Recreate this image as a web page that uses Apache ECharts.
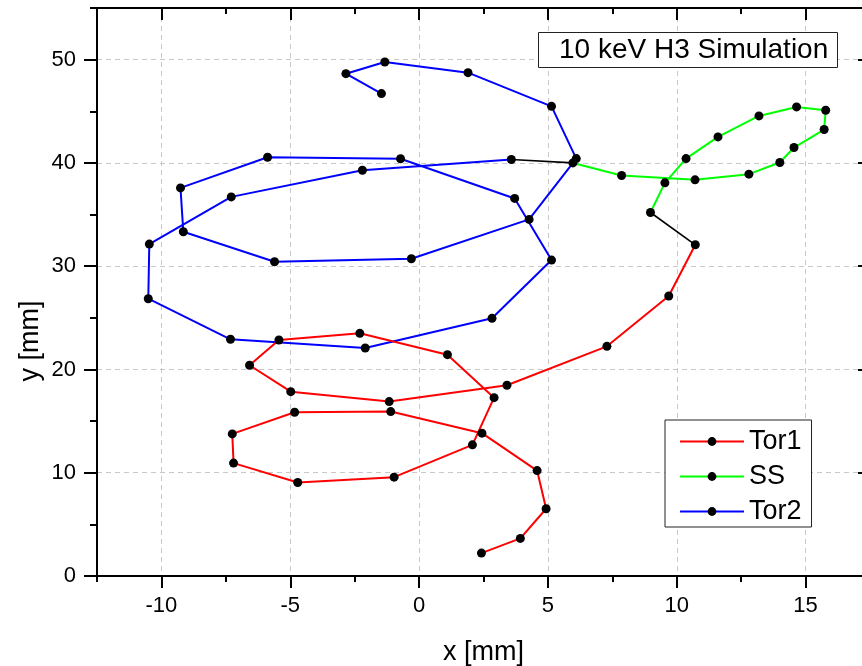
<!DOCTYPE html>
<html>
<head>
<meta charset="utf-8">
<script src="https://cdn.jsdelivr.net/npm/echarts@6/dist/echarts.min.js"></script>
<style>
  html, body { margin: 0; padding: 0; background: #fff; }
  #chart { width: 862px; height: 666px; }
</style>
</head>
<body>
<div id="chart"></div>
<script>
// Electron track segments, [x, y] in mm
const tor1 = [
  [2.42, 2.22], [3.93, 3.64], [4.93, 6.51], [4.58, 10.21], [2.44, 13.83],
  [-1.10, 15.92], [-4.83, 15.86], [-7.25, 13.76], [-7.20, 10.93], [-4.71, 9.05],
  [-0.97, 9.57], [2.07, 12.70], [2.91, 17.27], [1.10, 21.43], [-2.30, 23.50],
  [-5.44, 22.85], [-6.58, 20.41], [-4.98, 17.85], [-1.16, 16.89], [3.41, 18.47],
  [7.29, 22.24], [9.69, 27.11], [10.72, 32.07]
];
const ss = [
  [8.98, 35.20], [9.54, 38.07], [10.36, 40.42], [11.60, 42.52], [13.19, 44.55],
  [14.65, 45.42], [15.78, 45.10], [15.72, 43.23], [14.55, 41.49], [14.00, 40.04],
  [12.80, 38.91], [10.71, 38.36], [7.86, 38.78], [5.97, 40.00]
];
const tor2 = [
  [3.58, 40.33], [-2.20, 39.29], [-7.29, 36.71], [-10.47, 32.14], [-10.51, 26.85],
  [-7.32, 22.92], [-2.09, 22.08], [2.83, 24.95], [5.14, 30.59], [3.71, 36.56],
  [-0.72, 40.40], [-5.88, 40.55], [-9.26, 37.58], [-9.15, 33.33], [-5.61, 30.43],
  [-0.30, 30.72], [4.27, 34.53], [6.10, 40.42], [5.14, 45.48], [1.90, 48.74],
  [-1.33, 49.77], [-2.84, 48.64], [-1.46, 46.71]
];
// Black joins between consecutive segments
const joinA = [tor1[tor1.length - 1], ss[0]];
const joinB = [ss[ss.length - 1], tor2[0]];

const xMajor = [-10, -5, 0, 5, 10, 15];
const xMinor = [-12.5, -7.5, -2.5, 2.5, 7.5, 12.5, 17.5];
const yMajor = [0, 10, 20, 30, 40, 50];
const yMinor = [5, 15, 25, 35, 45, 55];

const FONT = '"Liberation Sans", Arial, sans-serif';
const AX = '#000';

function baseAxis(kind, position, ticks, len, inside, showLine) {
  const ext = kind === 'x' ? { min: -12.5, max: 17.5, interval: 2.5 } : { min: 0, max: 55, interval: 5 };
  return Object.assign({
    type: 'value',
    gridIndex: 0,
    position: position,
    axisLine: { show: showLine, onZero: false, lineStyle: { color: AX, width: 2 } },
    axisTick: { show: true, inside: inside, length: len, customValues: ticks, lineStyle: { color: AX, width: 2 } },
    axisLabel: { show: false },
    splitLine: { show: false },
    minorTick: { show: false }
  }, ext);
}

const gridLine = { show: true, lineStyle: { color: '#c8c8c8', width: 1, type: [5, 4] } };

const xBottom = baseAxis('x', 'bottom', xMajor, 12, false, true);
xBottom.axisLabel = { show: true, customValues: xMajor, fontSize: 22, color: '#000', fontFamily: FONT, margin: 19 };
xBottom.splitLine = gridLine;
xBottom.name = 'x [mm]';
xBottom.nameLocation = 'middle';
xBottom.nameGap = 63;
xBottom.nameTextStyle = { fontSize: 27, color: '#000', fontFamily: FONT };

const yLeft = baseAxis('y', 'left', yMajor, 13, false, true);
yLeft.axisLabel = { show: true, customValues: yMajor, fontSize: 22, color: '#000', fontFamily: FONT, margin: 21 };
yLeft.splitLine = gridLine;

function track(name, pts, color) {
  return {
    name: name, type: 'line', data: pts, xAxisIndex: 0, yAxisIndex: 0,
    symbol: 'circle', symbolSize: 9, showSymbol: true,
    itemStyle: { color: '#000' },
    lineStyle: { color: color, width: 2 },
    emphasis: { disabled: true }, z: 3
  };
}
function join(pts) {
  return {
    type: 'line', data: pts, xAxisIndex: 0, yAxisIndex: 0,
    symbol: 'none', lineStyle: { color: '#000', width: 1.6 },
    emphasis: { disabled: true }, z: 2
  };
}

const chart = echarts.init(document.getElementById('chart'), null, { renderer: 'canvas' });
chart.setOption({
  animation: false,
  backgroundColor: '#fff',
  textStyle: { fontFamily: FONT },
  grid: { left: 97, top: 8, width: 773, height: 568, containLabel: false, outerBoundsMode: 'none' },
  xAxis: [
    xBottom,
    baseAxis('x', 'bottom', xMinor, 6, false, false),
    baseAxis('x', 'top', xMajor, 12, true, true),
    baseAxis('x', 'top', xMinor, 6, true, false)
  ],
  yAxis: [
    yLeft,
    baseAxis('y', 'left', yMinor, 7, false, false),
    baseAxis('y', 'right', yMajor, 12, true, true),
    baseAxis('y', 'right', yMinor, 6, true, false)
  ],
  title: {
    text: '10 keV H3 Simulation',
    left: 538, top: 32,
    padding: [4, 9, 4, 21],
    borderColor: '#222', borderWidth: 1,
    backgroundColor: '#fff',
    textStyle: { fontSize: 28, fontWeight: 'normal', color: '#000', fontFamily: FONT }
  },
  legend: {
    data: ['Tor1', 'SS', 'Tor2'],
    orient: 'vertical',
    left: 665, top: 420,
    padding: [8, 10, 2, 14],
    itemWidth: 64, itemHeight: 11, itemGap: 8,
    borderColor: '#222', borderWidth: 1, backgroundColor: '#fff',
    selectedMode: false,
    textStyle: { fontSize: 27, color: '#000', fontFamily: FONT }
  },
  graphic: [{
    type: 'text',
    x: 31, y: 341,
    rotation: Math.PI / 2,
    style: { text: 'y [mm]', font: '27px ' + FONT, fill: '#000', align: 'center', verticalAlign: 'middle' }
  }],
  series: [
    join(joinA),
    join(joinB),
    track('Tor2', tor2, '#0000ff'),
    track('Tor1', tor1, '#ff0000'),
    track('SS', ss, '#00ff00')
  ]
});
</script>
</body>
</html>
